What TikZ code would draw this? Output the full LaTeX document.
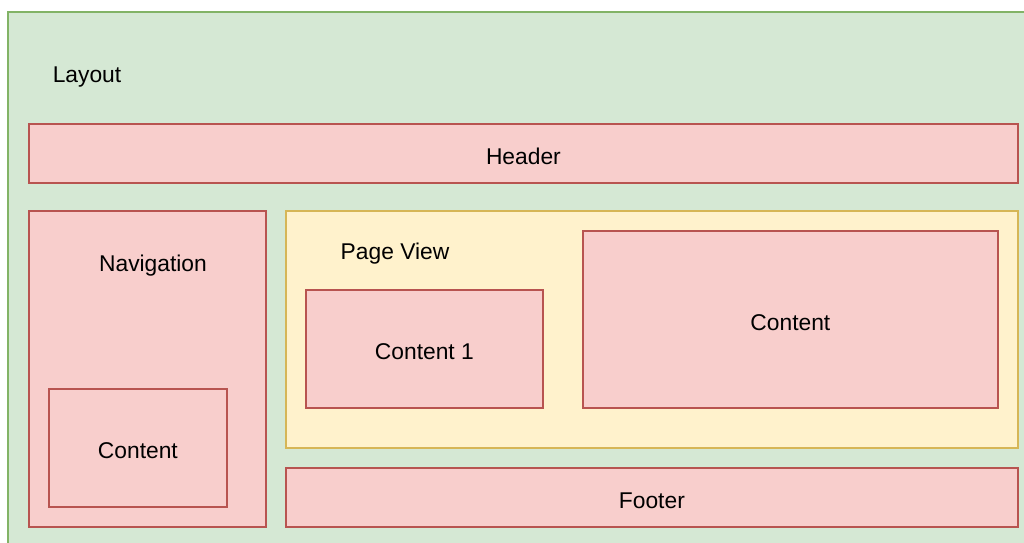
\documentclass[tikz,border=0pt]{standalone}
\usepackage{fontspec}
\setmainfont{Liberation Sans}
\usetikzlibrary{positioning}

\definecolor{layoutfill}{HTML}{D5E8D4}
\definecolor{layoutline}{HTML}{82B366}
\definecolor{partfill}{HTML}{F8CECC}
\definecolor{partline}{HTML}{B85450}
\definecolor{viewfill}{HTML}{FFF2CC}
\definecolor{viewline}{HTML}{D6B656}

\begin{document}
\begin{tikzpicture}[
    x=1pt, y=-1pt,
    every node/.style={font=\fontsize{22.8}{27}\selectfont},
    part/.style={draw=partline, fill=partfill, line width=1.8pt, rectangle, anchor=north west, inner sep=0pt, text height=22pt, text depth=0pt},
    view/.style={draw=viewline, fill=viewfill, line width=1.8pt, rectangle, anchor=north west, inner sep=0pt},
    caption/.style={inner sep=0pt}
]
    \clip (0,0) rectangle (1024,542);
    \fill [white] (0,0) rectangle (1024,542);

    % outer layout frame
    \draw [draw=layoutline, fill=layoutfill, line width=1.8pt] (8,12) rectangle (1040,560);
    \node [caption] (layout) at (87,77) {Layout};

    \node [part, minimum width=989pt, minimum height=59pt] (header) at (28,123) {Header};

    \node [part, minimum width=237pt, minimum height=316pt] (nav) at (28,210) {};
    \node [caption] (navlabel) at (153,266) {Navigation};
    \node [part, minimum width=178pt, minimum height=118pt] (navcontent) at (48,388) {Content};

    \node [view, minimum width=732pt, minimum height=237pt] (pageview) at (285,210) {};
    \node [caption] (viewlabel) at (395,254) {Page View};
    \node [part, minimum width=237pt, minimum height=118pt] (content1) at (305,289) {Content 1};
    \node [part, minimum width=415pt, minimum height=177pt] (content) at (582,230) {Content};

    \node [part, minimum width=732pt, minimum height=59pt] (footer) at (285,467) {Footer};
\end{tikzpicture}
\end{document}
